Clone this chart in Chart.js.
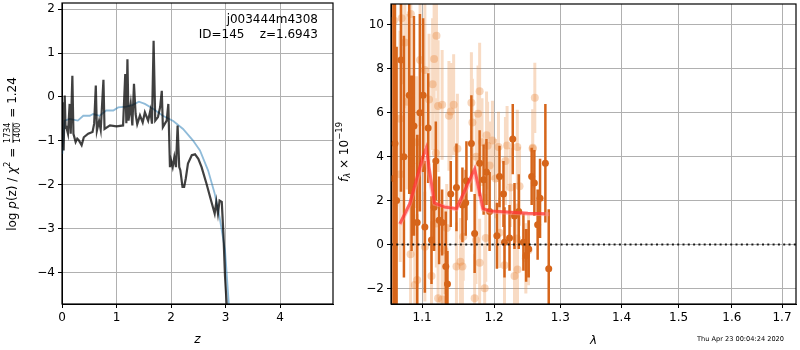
<!DOCTYPE html>
<html>
<head>
<meta charset="utf-8">
<script src="https://cdn.jsdelivr.net/npm/chart.js@4.4.1/dist/chart.umd.min.js"></script>
<style>
  body { margin: 0; background: #fff; }
  #wrap { position: relative; width: 800px; height: 350px; overflow: hidden; }
  canvas { position: absolute; top: 0; }
  #pz { left: 0; }
  #sp { left: 334px; }
  #stamp { position: absolute; left: 697px; top: 335px; font: 6.6px "DejaVu Sans"; color: #000; white-space: nowrap; }
</style>
</head>
<body>
<div id="wrap">
  <canvas id="pz" width="340" height="350"></canvas>
  <canvas id="sp" width="466" height="350"></canvas>
  <div id="stamp">Thu Apr 23 00:04:24 2020</div>
</div>
<script>
// left panel: p(z) and prior
const zGrid = [0.006,0.02,0.03,0.05,0.065,0.08,0.11,0.14,0.16,0.19,0.21,0.25,0.28,0.31,0.36,0.40,0.48,0.56,0.59,0.62,
  0.64,0.68,0.71,0.76,0.78,0.88,1.0,1.12,1.16,1.18,1.2,1.22,1.26,1.29,1.32,1.35,1.38,1.43,1.48,1.52,
  1.58,1.62,1.65,1.68,1.71,1.76,1.8,1.83,1.85,1.92,1.95,1.98,2.0,2.03,2.06,2.09,2.12,2.15,2.17,2.21,
  2.24,2.27,2.31,2.38,2.44,2.5,2.56,2.65,2.74,2.8,2.83,2.86,2.89,2.93,2.96,2.99,3.02,3.06];
const logPz = [-1.14,-0.12,-1.22,0.03,-0.7,-0.69,-0.84,-0.16,-0.84,0.48,-0.84,-1.03,-0.95,-0.99,-1.1,-0.92,-0.84,-0.8,-0.61,0.26,
  -0.77,-0.55,-0.75,0.39,-0.73,-0.65,-0.67,-0.65,0.52,-0.6,0.86,-0.54,-0.16,-0.65,0.3,-0.39,-0.62,-0.42,-0.58,-0.35,
  -0.54,-0.31,-0.61,1.28,-0.54,-0.46,-0.23,0.14,-0.69,-0.54,-0.16,-1.6,-1.45,-1.6,-1.37,-1.6,-0.65,-1.6,-1.67,-2.05,
  -2.05,-1.86,-1.52,-1.33,-1.31,-1.41,-1.6,-1.98,-2.39,-2.66,-2.39,-2.66,-2.36,-2.39,-3.11,-4.1,-4.72,-5.5];
const zPrior = [0.006,0.05,0.14,0.29,0.39,0.51,0.57,0.69,0.81,0.94,1.03,1.18,1.3,1.41,1.52,1.67,1.85,2.04,2.22,2.4,2.53,2.68,2.8,2.89,2.99,3.05,3.08];
const logPrior = [-1.3,-0.54,-0.5,-0.54,-0.43,-0.43,-0.39,-0.43,-0.31,-0.31,-0.24,-0.22,-0.18,-0.11,-0.16,-0.27,-0.43,-0.55,-0.73,-0.99,-1.22,-1.68,-2.2,-2.74,-3.49,-4.55,-5.1];
const zTicks = [0, 1, 2, 3, 4];
const lnpTicks = [-4, -3, -2, -1, 0, 1, 2];
const zRange = [0, 4.97];
const lnpRange = [-4.72, 2.14];

// right panel: spectrum
const lamDark = [1.0625,1.0644,1.0665,1.0721,1.0760,1.0829,1.0860,1.0891,1.0934,1.0970,1.1013,1.1036,1.1080,1.1125,1.1160,1.1183,
  1.1228,1.1269,1.1319,1.1342,1.1387,1.1466,1.1549,1.1595,1.1605,1.1675,1.1721,1.1792,1.1849,1.1890,1.1935,1.2041,
  1.2079,1.2137,1.2152,1.2226,1.2274,1.2300,1.2363,1.2433,1.2474,1.2513,1.2558,1.2599,1.2649,1.2686,1.2768,1.2820];
const fluxDark = [3.0,4.6,2.0,8.4,4.0,6.8,3.7,5.4,1.0,6.0,6.8,0.8,5.3,0.2,1.7,3.8,
  1.1,1.0,-1.0,-1.8,2.3,2.6,1.8,1.9,2.9,4.6,0.5,3.7,2.95,3.3,1.5,0.4,
  3.1,2.3,0.1,0.3,4.8,1.3,1.5,0.1,-0.5,-0.2,3.1,2.8,0.9,2.1,3.7,-1.1];
const errDark = [9,8,7,6,5.5,4.5,4,5,4,4.5,3.5,3,2.5,2,2,1.8,
  2,1.5,2.5,1.5,1.5,2,1.7,1.5,1.8,2.2,1.8,1.5,1.6,1.5,1.8,1.5,
  1.4,1.5,1.6,1.5,1.6,1.5,1.7,1.3,1.2,1.3,1.3,1.5,1.6,1.8,2.7,2.7];
const lamLight = [1.0630,1.0730,1.0772,1.0800,1.0850,1.0926,1.0972,1.1036,1.1092,1.1140,1.1160,1.1192,1.1214,1.1269,1.1362,1.1387,
  1.1427,1.1675,1.1689,1.1769,1.1792,1.1826,1.1891,1.1906,1.1976,1.2064,1.2190,1.2342,1.2573,1.2606,
  1.0708,1.0712,1.0847,1.1183,1.1190,1.1332,1.1479,1.1560,1.1743,1.1935,1.2020,1.2166,1.2240,1.2375,1.2575,1.2079,1.2336,1.1740,1.1880,
  1.0902,1.0934,1.1125,1.1214,1.1269,1.1466,1.1521,1.1549,1.1792,1.1721,1.1864,1.2152,1.2300,1.2345,1.2470,1.2510,1.1300,1.1036];
const fluxLight = [10.2,10.3,9.2,6.5,10.5,4.66,8.4,7.95,6.6,7.3,8.45,9.5,6.3,6.36,5.86,6.06,
  6.36,6.45,5.55,5.95,6.98,4.66,4.97,4.5,4.74,4.44,4.51,4.44,4.36,6.68,
  5.73,3.2,-0.44,4.16,0.95,0.75,4.36,0.35,4.0,3.6,3.0,3.8,2.6,2.65,4.4,0.53,0.27,0.2,0.3,
  -1.85,-1.62,-1.44,-2.45,-2.5,-1.0,-0.79,-1.0,-0.83,-2.45,-1.99,-0.94,-1.44,-1.14,-0.63,-0.26,-0.26,-0.1];
const errLight = [4,3,3,4,4,3,3,3.5,3,3,2.5,2.5,3,2.5,2.5,2.2,
  2.3,2.3,2,2.2,2.2,2,2,2,1.8,1.6,1.8,1.7,1.8,1.6,
  4,4,4,2.5,2,2,2.5,2,2,2,1.8,2,1.8,1.8,1.7,1.6,1.6,2,2,
  3,3,2.5,2.5,2.5,2,2,2,2,2,2,1.8,1.8,1.7,1.6,1.6,2,2.5];
const lamModel = [1.0708,1.0836,1.1000,1.1055,1.1164,1.1300,1.1466,1.1600,1.1721,1.1839,1.1935,1.2200,1.2500,1.2760];
const fluxModel = [0.95,1.86,3.9,4.4,1.9,1.7,1.64,2.6,3.45,1.64,1.53,1.48,1.42,1.4];
const lamModel2 = [1.0708,1.0836,1.1000,1.1055,1.1164,1.1466,1.1721,1.1839,1.1935,1.2200,1.2500,1.2830];
const fluxModel2 = [0.9,1.8,3.7,3.9,1.85,1.6,3.3,1.6,1.5,1.45,1.4,1.38];
const lamTicks = [1.1, 1.2, 1.3, 1.4, 1.5, 1.6, 1.7];
const fluxTicks = [-2, 0, 2, 4, 6, 8, 10];
const lamRange = [1.0593, 1.729];
const fluxRange = [-2.71, 10.95];

const FONT = '"DejaVu Sans"';
const DARK = '#d6651a';
const LIGHT = 'rgba(232,135,60,0.3)';

const pts = (xs, ys) => xs.map((x, i) => ({ x: x, y: ys[i] }));
// vertical error bars as broken line segments
const errSegs = (xs, ys, es) => xs.flatMap((x, i) => [
  { x: x, y: ys[i] - es[i] }, { x: x, y: ys[i] + es[i] }, { x: x, y: null }
]);
const fmt = v => (v < 0 ? '\u2212' + Math.abs(v) : String(v));

function axis(range, ticks, cb, fit) {
  return {
    min: range[0], max: range[1],
    afterBuildTicks: s => { s.ticks = ticks.map(v => ({ value: v })); },
    afterFit: s => {
      fit(s);
      // no extra room for labels near the ends
      s.paddingTop = 0; s.paddingBottom = 0; s.paddingLeft = 0; s.paddingRight = 0;
    },
    grid: { color: '#b0b0b0', lineWidth: 1, tickColor: '#000', tickLength: 4 },
    border: { color: '#000', width: 1 },
    ticks: { color: '#000', font: { family: FONT, size: 12 }, padding: 3, autoSkip: false, maxRotation: 0, callback: cb }
  };
}

// frame around the plot area
const frame = {
  id: 'frame',
  afterDatasetsDraw(c) {
    const a = c.chartArea, ctx = c.ctx;
    ctx.save();
    ctx.strokeStyle = '#000';
    ctx.lineWidth = 1.2;
    ctx.strokeRect(a.left, a.top, a.right - a.left, a.bottom - a.top);
    ctx.restore();
  }
};

// draws a run of text pieces centred on (0,0) in the current transform
function drawRun(ctx, parts) {
  let w = 0;
  parts.forEach(p => {
    ctx.font = p.font;
    if (p.frac) {
      p.w = Math.max(ctx.measureText(p.frac[0]).width, ctx.measureText(p.frac[1]).width) + 2;
    } else {
      p.w = ctx.measureText(p.t).width;
    }
    w += p.w;
  });
  let x = -w / 2;
  ctx.textBaseline = 'middle';
  parts.forEach(p => {
    ctx.font = p.font;
    if (p.frac) {
      ctx.textAlign = 'center';
      ctx.fillText(p.frac[0], x + p.w / 2, -5);
      ctx.fillText(p.frac[1], x + p.w / 2, 5);
      ctx.fillRect(x + 1, -0.5, p.w - 2, 0.8);
    } else {
      ctx.textAlign = 'left';
      ctx.fillText(p.t, x, p.dy || 0);
    }
    x += p.w;
  });
}

const leftLabels = {
  id: 'leftLabels',
  afterDraw(c) {
    const ctx = c.ctx, a = c.chartArea;
    const F = '12px ' + FONT, I = 'italic 12px ' + FONT, S = '8px ' + FONT;
    ctx.save();
    ctx.fillStyle = '#000';
    ctx.translate(13, 154);
    ctx.rotate(-Math.PI / 2);
    drawRun(ctx, [
      { t: 'log ', font: F }, { t: 'p', font: I }, { t: '(z) / ', font: F },
      { t: '\u03c7', font: I }, { t: '2', font: S, dy: -5 }, { t: ' = ', font: F },
      { frac: ['1734', '1400'], font: S }, { t: ' = 1.24', font: F }
    ]);
    ctx.restore();
    ctx.save();
    ctx.fillStyle = '#000';
    ctx.font = I;
    ctx.textAlign = 'center';
    ctx.textBaseline = 'middle';
    ctx.fillText('z', (a.left + a.right) / 2, 340);
    ctx.font = F;
    ctx.textAlign = 'right';
    ctx.fillText('j003444m4308', 318, 20);
    ctx.fillText('ID=145    z=1.6943', 318, 35);
    ctx.restore();
  }
};

const rightLabels = {
  id: 'rightLabels',
  afterDraw(c) {
    const ctx = c.ctx, a = c.chartArea;
    const F = '12px ' + FONT, I = 'italic 12px ' + FONT, S = '8.5px ' + FONT;
    ctx.save();
    ctx.fillStyle = '#000';
    ctx.translate(11, 152);
    ctx.rotate(-Math.PI / 2);
    drawRun(ctx, [
      { t: 'f', font: I }, { t: '\u03bb', font: 'italic 8.5px ' + FONT, dy: 3 },
      { t: ' \u00d7 10', font: F }, { t: '\u221219', font: S, dy: -5 }
    ]);
    ctx.restore();
    ctx.save();
    ctx.fillStyle = '#000';
    ctx.font = I;
    ctx.textAlign = 'center';
    ctx.textBaseline = 'middle';
    ctx.fillText('\u03bb', (a.left + a.right) / 2, 341);
    ctx.restore();
  }
};

const common = {
  responsive: false,
  animation: false,
  devicePixelRatio: 1,
  events: [],
  plugins: { legend: { display: false }, tooltip: { enabled: false } }
};

new Chart(document.getElementById('pz'), {
  type: 'scatter',
  data: {
    datasets: [
      { data: pts(zGrid, logPz), showLine: true, borderColor: 'rgba(0,0,0,0.75)', borderWidth: 2.2, pointRadius: 0, order: 0 },
      { data: pts(zPrior, logPrior), showLine: true, borderColor: 'rgba(31,119,180,0.5)', borderWidth: 1.8, pointRadius: 0, order: 1 }
    ]
  },
  options: Object.assign({}, common, {
    layout: { padding: { top: 3, right: 7, left: 0, bottom: 0 } },
    scales: {
      x: axis(zRange, zTicks, fmt, s => { s.height = 46; }),
      y: axis(lnpRange, lnpTicks, fmt, s => { s.width = 62; })
    }
  }),
  plugins: [frame, leftLabels]
});

const zeroLine = [{ x: lamRange[0], y: 0 }, { x: lamRange[1], y: 0 }];

new Chart(document.getElementById('sp'), {
  type: 'scatter',
  data: {
    datasets: [
      { data: zeroLine, showLine: true, borderColor: 'rgba(0,0,0,0.85)', borderWidth: 2, borderDash: [2, 3.3], pointRadius: 0, order: 0 },
      { data: pts(lamModel, fluxModel), showLine: true, borderColor: 'rgba(255,30,30,0.6)', borderWidth: 3, pointRadius: 0, order: 1 },
      { data: pts(lamModel2, fluxModel2), showLine: true, borderColor: 'rgba(255,140,140,0.5)', borderWidth: 4, pointRadius: 0, order: 2 },
      { data: pts(lamDark, fluxDark), backgroundColor: DARK, borderWidth: 0, pointRadius: 3.5, order: 3 },
      { data: errSegs(lamDark, fluxDark, errDark), showLine: true, spanGaps: false, borderColor: DARK, borderWidth: 2.5, pointRadius: 0, order: 4 },
      { data: pts(lamLight, fluxLight), backgroundColor: 'rgba(232,135,60,0.35)', borderWidth: 0, pointRadius: 4, order: 5 },
      { data: errSegs(lamLight, fluxLight, errLight), showLine: true, spanGaps: false, borderColor: LIGHT, borderWidth: 3, pointRadius: 0, order: 6 }
    ]
  },
  options: Object.assign({}, common, {
    layout: { padding: { top: 3, right: 2, left: 0, bottom: 0 } },
    scales: {
      x: Object.assign(axis(lamRange, lamTicks, v => v.toFixed(1), s => { s.height = 46; }), { type: 'logarithmic' }),
      y: axis(fluxRange, fluxTicks, fmt, s => { s.width = 57; })
    }
  }),
  plugins: [frame, rightLabels]
});
</script>
</body>
</html>
